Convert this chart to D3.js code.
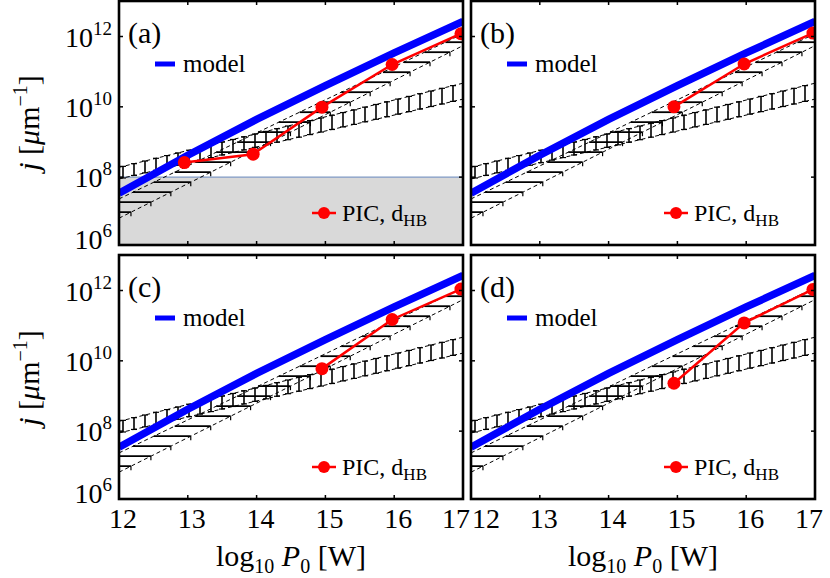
<!DOCTYPE html>
<html>
<head>
<meta charset="utf-8">
<script src="https://d3js.org/d3.v7.min.js"></script>
<style>
  body { margin: 0; background: #fff; }
  svg text { font-family: "Liberation Serif", "Times New Roman", Times, serif; fill: #000; }
</style>
</head>
<body>
<svg width="830" height="578"></svg>
<script>
// axis ticks
const xTicks = [12, 13, 14, 15, 16, 17]
const yTickExp = [6, 8, 10, 12]

// model (blue)
const modelP = [12, 13, 14, 15, 16, 17]
const modelJ = [3.5e7, 4.2e8, 4.4e9, 4.0e10, 3.4e11, 2.7e12]

// hatched bands: values at log10 P0 = 12 and 17
const bandP = [12, 17]
const steepUpper = [2.4e7, 1.2e12]
const steepLower = [6.8e6, 5.5e11]
const flatUpper = [1.9e8, 4.7e10]
const flatLower = [8.9e7, 1.66e10]

// PIC, d_HB (red)
const picA_P = [12.95, 13.95, 14.95, 15.97, 16.97]
const picA_j = [2.6e8, 4.5e8, 9.8e9, 1.6e11, 1.2e12]
const picB_P = [14.95, 15.97, 16.97]
const picB_j = [1.0e10, 1.65e11, 1.25e12]
const picC_P = [14.95, 15.97, 16.97]
const picC_j = [6.0e9, 1.5e11, 1.1e12]
const picD_P = [14.95, 15.97, 16.97]
const picD_j = [2.3e9, 1.2e11, 1.07e12]

const greyTop = 1e8

const panelW = 344, panelH = 244
const panels = [
  { name: "(a)", left: 119, top: 1, P: picA_P, j: picA_j, grey: true, yLab: true, xLab: false, right: false },
  { name: "(b)", left: 471, top: 1, P: picB_P, j: picB_j, grey: false, yLab: false, xLab: false, right: true },
  { name: "(c)", left: 119, top: 255, P: picC_P, j: picC_j, grey: false, yLab: true, xLab: true, right: false },
  { name: "(d)", left: 471, top: 255, P: picD_P, j: picD_j, grey: false, yLab: false, xLab: true, right: true }
]

const svg = d3.select("svg")
const x = d3.scaleLinear().domain([12, 17]).range([0, panelW])
const y = d3.scaleLog().domain([Math.pow(10, 6.07), Math.pow(10, 13.01)]).range([panelH, 0])

panels.forEach((p, i) => {
  const g = svg.append("g").attr("transform", `translate(${p.left},${p.top})`)
  const clipId = "clip" + i
  g.append("clipPath").attr("id", clipId)
    .append("rect").attr("width", panelW).attr("height", panelH)
  const inner = g.append("g").attr("clip-path", `url(#${clipId})`)

  if (p.grey) {
    inner.append("rect")
      .attr("x", 0).attr("y", y(greyTop))
      .attr("width", panelW).attr("height", panelH - y(greyTop))
      .attr("fill", "#d9d9d9")
    inner.append("line")
      .attr("x1", 0).attr("x2", panelW)
      .attr("y1", y(greyTop)).attr("y2", y(greyTop))
      .attr("stroke", "#7f99c4").attr("stroke-width", 1.2)
  }

  // steep band: horizontal hatches
  const sx0 = x(bandP[0]), sx1 = x(bandP[1])
  const upY = [y(steepUpper[0]), y(steepUpper[1])]
  const loY = [y(steepLower[0]), y(steepLower[1])]
  const xAtY = (yy, ys) => sx0 + (yy - ys[0]) / (ys[1] - ys[0]) * (sx1 - sx0)
  d3.range(loY[0] + 4, upY[1] - 4, -10).forEach(yy => {
    const xa = xAtY(yy, upY), xb = xAtY(yy, loY)
    inner.append("line").attr("x1", xa).attr("x2", xb).attr("y1", yy).attr("y2", yy)
      .attr("stroke", "#000").attr("stroke-width", 1.8)
    inner.append("line")
      .attr("x1", xb).attr("x2", xb).attr("y1", yy).attr("y2", yy + 4)
      .attr("stroke", "#000").attr("stroke-width", 1.2)
  })

  // flat band: vertical hatches
  const fu = [y(flatUpper[0]), y(flatUpper[1])]
  const fl = [y(flatLower[0]), y(flatLower[1])]
  const yAtX = (xx, ys) => ys[0] + (xx - sx0) / (sx1 - sx0) * (ys[1] - ys[0])
  d3.range(sx0 + 4, sx1, 11).forEach(xx => {
    const ya = yAtX(xx, fu), yb = yAtX(xx, fl)
    inner.append("line").attr("x1", xx).attr("x2", xx).attr("y1", ya).attr("y2", yb)
      .attr("stroke", "#000").attr("stroke-width", 1.6)
    ;[ya, yb].forEach(yy => inner.append("line")
      .attr("x1", xx - 3).attr("x2", xx + 3).attr("y1", yy).attr("y2", yy)
      .attr("stroke", "#000").attr("stroke-width", 1.2))
  })

  // dashed boundaries
  ;[steepUpper, steepLower, flatUpper, flatLower].forEach(b => {
    inner.append("line")
      .attr("x1", x(bandP[0])).attr("y1", y(b[0]))
      .attr("x2", x(bandP[1])).attr("y2", y(b[1]))
      .attr("stroke", "#000").attr("stroke-width", 1)
      .attr("stroke-dasharray", "4,3")
  })

  // model
  const line = d3.line().x(d => x(d[0])).y(d => y(d[1]))
  inner.append("path")
    .attr("d", line(modelP.map((v, k) => [v, modelJ[k]])))
    .attr("fill", "none").attr("stroke", "#0000ff").attr("stroke-width", 7.5)

  // PIC
  const pts = p.P.map((v, k) => [v, p.j[k]])
  inner.append("path").attr("d", line(pts))
    .attr("fill", "none").attr("stroke", "#ff0000").attr("stroke-width", 2.5)
  inner.selectAll("circle.pic").data(pts).enter().append("circle")
    .attr("class", "pic")
    .attr("cx", d => x(d[0])).attr("cy", d => y(d[1])).attr("r", 6.5)
    .attr("fill", "#ff0000")

  // frame
  g.append("rect").attr("width", panelW).attr("height", panelH)
    .attr("fill", "none").attr("stroke", "#000").attr("stroke-width", 2.6)

  // ticks (inward, all sides)
  xTicks.slice(1, -1).forEach(t => {
    g.append("line").attr("x1", x(t)).attr("x2", x(t)).attr("y1", panelH).attr("y2", panelH - 4)
      .attr("stroke", "#000").attr("stroke-width", 1.5)
    g.append("line").attr("x1", x(t)).attr("x2", x(t)).attr("y1", 0).attr("y2", 4)
      .attr("stroke", "#000").attr("stroke-width", 1.5)
  })
  yTickExp.forEach(e => {
    const yy = y(Math.pow(10, e))
    if (yy > panelH) return
    g.append("line").attr("x1", 0).attr("x2", 4).attr("y1", yy).attr("y2", yy)
      .attr("stroke", "#000").attr("stroke-width", 1.5)
    g.append("line").attr("x1", panelW).attr("x2", panelW - 4).attr("y1", yy).attr("y2", yy)
      .attr("stroke", "#000").attr("stroke-width", 1.5)
  })

  if (p.yLab) {
    yTickExp.forEach(e => {
      const yy = Math.min(y(Math.pow(10, e)), panelH - 6)
      const t = g.append("text").attr("x", -7).attr("y", yy + 10)
        .attr("text-anchor", "end").style("font-size", "28px")
      t.append("tspan").text("10")
      t.append("tspan").attr("dy", -12).style("font-size", "19px").text(e)
    })
  }
  if (p.xLab) {
    xTicks.forEach((t, k) => {
      let dx = 4
      if (k === 0 && p.right) dx = 15
      if (k === xTicks.length - 1) dx = p.right ? -6 : -7
      g.append("text").attr("x", x(t) + dx).attr("y", panelH + 29)
        .attr("text-anchor", "middle").style("font-size", "28px").text(t)
    })
  }

  // panel letter
  g.append("text").attr("x", 9).attr("y", 42).style("font-size", "30px").text(p.name)

  // legend: model
  g.append("line").attr("x1", 36).attr("x2", 56).attr("y1", 63).attr("y2", 63)
    .attr("stroke", "#0000ff").attr("stroke-width", 5)
  g.append("text").attr("x", 64).attr("y", 71).style("font-size", "25px").text("model")

  // legend: PIC
  g.append("line").attr("x1", 193).attr("x2", 217).attr("y1", 212).attr("y2", 212)
    .attr("stroke", "#ff0000").attr("stroke-width", 2.5)
  g.append("circle").attr("cx", 205).attr("cy", 212).attr("r", 6).attr("fill", "#ff0000")
  const lt = g.append("text").attr("x", 223).attr("y", 220).style("font-size", "24px")
  lt.append("tspan").text("PIC, d")
  lt.append("tspan").attr("dy", 5).style("font-size", "17px").text("HB")
})

// axis titles
;[123, 378].forEach(cy => {
  const t = svg.append("text")
    .attr("transform", `translate(39,${cy}) rotate(-90)`)
    .attr("text-anchor", "middle").style("font-size", "30px")
  t.append("tspan").style("font-style", "italic").text("j")
  t.append("tspan").text(" [")
  t.append("tspan").style("font-style", "italic").text("μ")
  t.append("tspan").text("m")
  t.append("tspan").attr("dy", -12).style("font-size", "20px").text("−1")
  t.append("tspan").attr("dy", 12).text("]")
})
;[291, 643].forEach(cx => {
  const t = svg.append("text").attr("x", cx).attr("y", 566)
    .attr("text-anchor", "middle").style("font-size", "30px")
  t.append("tspan").text("log")
  t.append("tspan").attr("dy", 7).style("font-size", "20px").text("10")
  t.append("tspan").attr("dy", -7).text(" ")
  t.append("tspan").style("font-style", "italic").text("P")
  t.append("tspan").attr("dy", 7).style("font-size", "20px").text("0")
  t.append("tspan").attr("dy", -7).text(" [W]")
})
</script>
</body>
</html>
